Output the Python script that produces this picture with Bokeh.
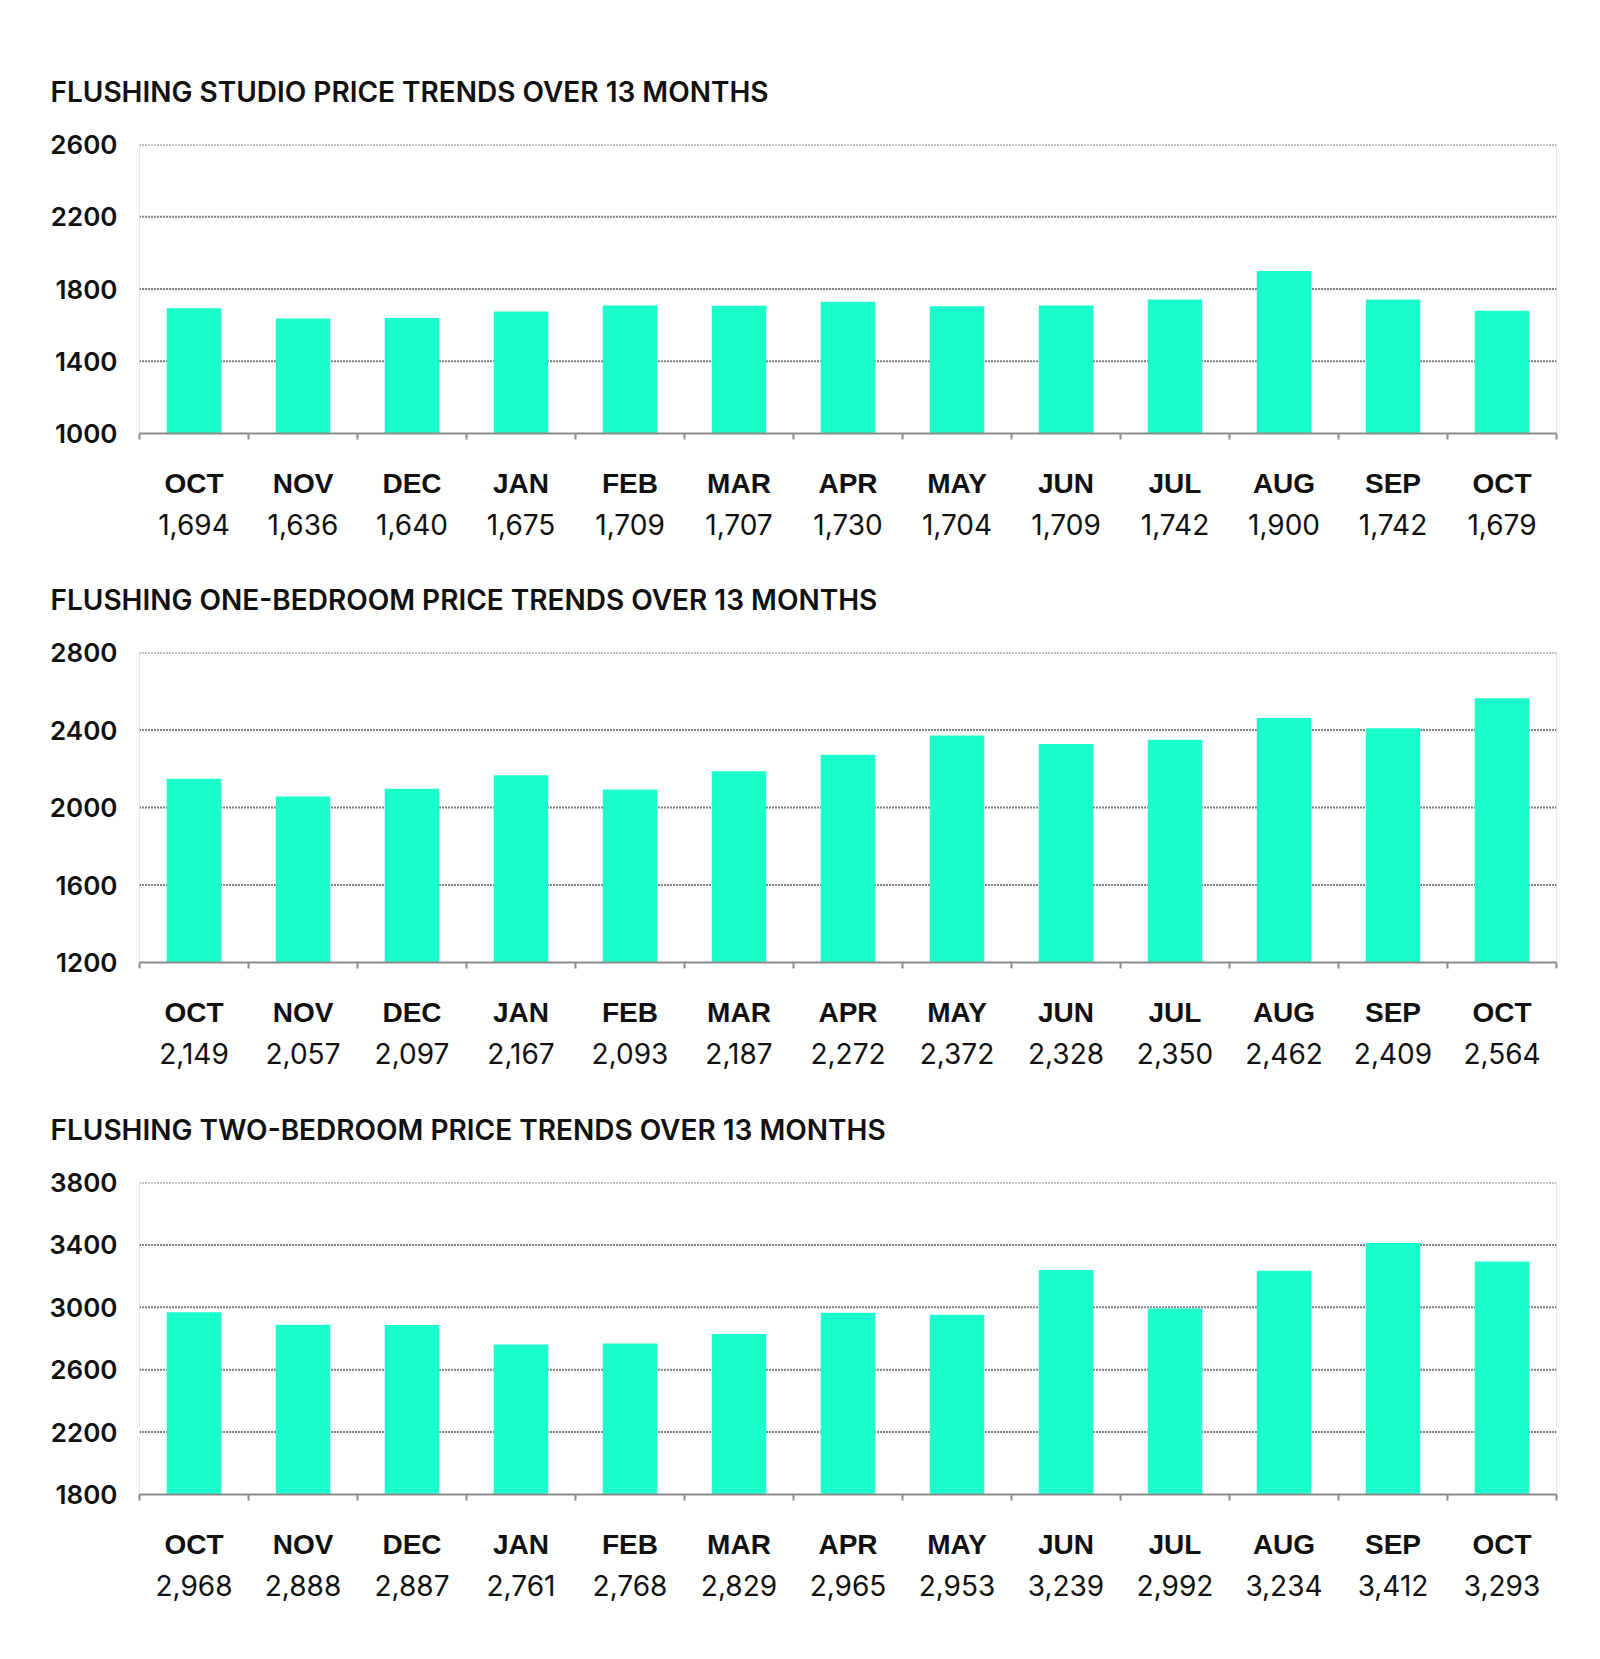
from bokeh.plotting import figure
from bokeh.layouts import column
from bokeh.models import FixedTicker, LinearAxis, Range1d, Span, Title
from bokeh.embed import file_html
from bokeh.resources import INLINE

months = ["OCT", "NOV", "DEC", "JAN", "FEB", "MAR", "APR", "MAY", "JUN", "JUL", "AUG", "SEP", "OCT"]
studio = [1694, 1636, 1640, 1675, 1709, 1707, 1730, 1704, 1709, 1742, 1900, 1742, 1679]
one_bed = [2149, 2057, 2097, 2167, 2093, 2187, 2272, 2372, 2328, 2350, 2462, 2409, 2564]
two_bed = [2968, 2888, 2887, 2761, 2768, 2829, 2965, 2953, 3239, 2992, 3234, 3412, 3293]

titles = ["FLUSHING STUDIO PRICE TRENDS OVER 13 MONTHS",
          "FLUSHING ONE-BEDROOM PRICE TRENDS OVER 13 MONTHS",
          "FLUSHING TWO-BEDROOM PRICE TRENDS OVER 13 MONTHS"]
y_ticks = [[1000, 1400, 1800, 2200, 2600],
           [1200, 1600, 2000, 2400, 2800],
           [1800, 2200, 2600, 3000, 3400, 3800]]
series = [studio, one_bed, two_bed]

BAR = "#1affcc"
FONT = "Inter"
HEAD_FONT = "Inter SemiBold, Lato Semibold, Inter"

# layout: (fig height, top border, bottom border)
layouts = [(542, 144, 109), (530, 110, 110), (578, 110, 156)]

figs = []
for k in range(3):
    h, top, bot = layouts[k]
    vals = series[k]
    ticks = y_ticks[k]
    p = figure(width=1584, height=h, output_backend="svg", toolbar_location=None,
               x_range=Range1d(0, len(months)), y_range=Range1d(ticks[0], ticks[-1]),
               min_border_left=139, min_border_right=28, min_border_top=top,
               min_border_bottom=bot, x_axis_location=None, y_axis_location=None)
    p.outline_line_color = None
    p.background_fill_color = "white"
    p.border_fill_color = "white"

    t = Title(text=titles[k], align="left", offset=-89, text_font=HEAD_FONT,
              text_font_size="28px", text_font_style="normal", text_color="#111111",
              standoff=72)
    p.add_layout(t, "above")

    # y axis
    ya = LinearAxis(ticker=FixedTicker(ticks=ticks))
    ya.axis_line_color = None
    ya.major_tick_line_color = None
    ya.minor_tick_line_color = None
    ya.major_label_text_font = HEAD_FONT
    ya.major_label_text_font_size = "26px"
    ya.major_label_text_font_style = "normal"
    ya.major_label_text_color = "#111111"
    ya.major_label_standoff = 16
    p.add_layout(ya, "left")

    p.xgrid.grid_line_color = None
    p.ygrid.grid_line_color = None
    for yv in ticks[1:]:
        p.add_layout(Span(location=yv, dimension="width", line_color="#000000",
                          line_dash="1 2", line_width=2, level="underlay"))

    for xb in (0, len(months)):
        p.add_layout(Span(location=xb, dimension="height", line_color="#d4d4d4",
                          line_width=1, level="underlay"))

    xs = [i + 0.5 for i in range(len(months))]
    p.vbar(x=xs, top=vals, bottom=ticks[0], width=0.5, color=BAR, line_color=None)

    # month axis (with boundary minor ticks)
    xa = LinearAxis(ticker=FixedTicker(ticks=xs, minor_ticks=list(range(len(months) + 1))))
    xa.major_label_overrides = {x: m for x, m in zip(xs, months)}
    xa.axis_line_color = "#8c8c8c"
    xa.axis_line_width = 2
    xa.major_tick_line_color = None
    xa.minor_tick_line_color = "#8c8c8c"
    xa.minor_tick_line_width = 2
    xa.minor_tick_in = 0
    xa.minor_tick_out = 6
    xa.major_label_text_font = "Liberation Sans"
    xa.major_label_text_font_style = "bold"
    xa.major_label_text_font_size = "28px"
    xa.major_label_text_color = "#111111"
    xa.major_label_standoff = 28
    p.add_layout(xa, "below")

    va = LinearAxis(ticker=FixedTicker(ticks=xs))
    va.major_label_overrides = {x: f"{v:,}" for x, v in zip(xs, vals)}
    va.axis_line_color = None
    va.major_tick_line_color = None
    va.minor_tick_line_color = None
    va.major_label_text_font = FONT
    va.major_label_text_font_size = "28px"
    va.major_label_text_color = "#111111"
    va.major_label_standoff = 6
    p.add_layout(va, "below")

    figs.append(p)

layout = column(*figs, spacing=0)
open("out.html", "w").write(file_html(layout, INLINE))
